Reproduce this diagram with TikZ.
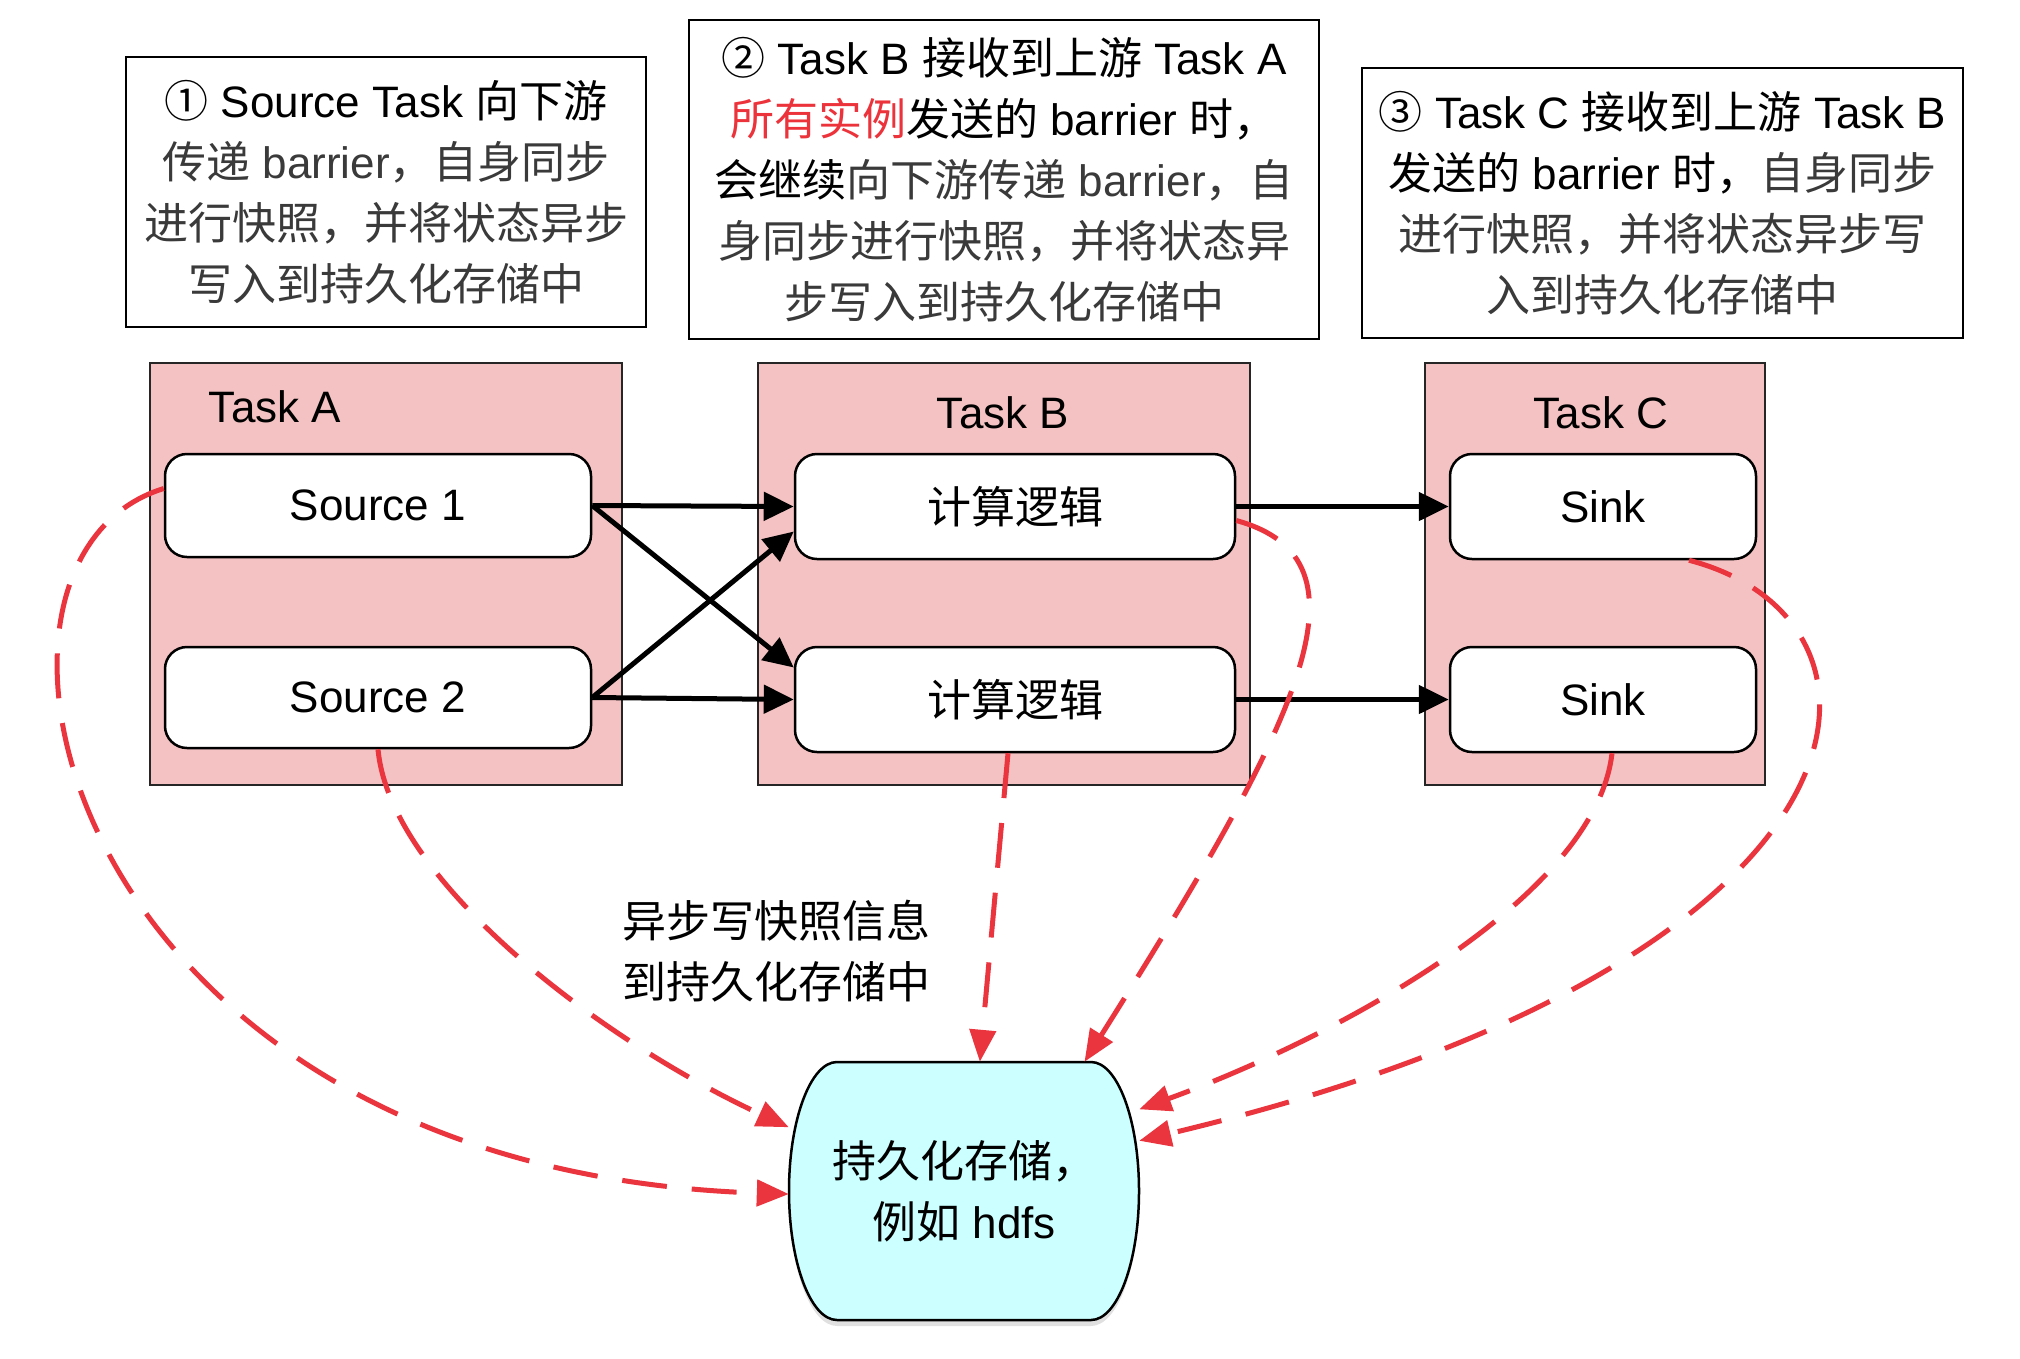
\documentclass[tikz,border=0pt]{standalone}
\usepackage{fontspec}
\setmainfont{Liberation Sans}
\newfontfamily\zhfont{Noto Sans CJK SC}
\newcommand\zh[1]{{\zhfont #1}}
\usetikzlibrary{arrows.meta,calc}
\definecolor{pinkfill}{RGB}{244,194,194}
\definecolor{cyanfill}{RGB}{204,255,255}
\definecolor{dashred}{RGB}{234,52,62}
\definecolor{txtgray}{RGB}{58,58,58}
\definecolor{hlred}{RGB}{236,50,58}
\begin{document}
\begin{tikzpicture}[x=1pt,y=-1pt,
  txt/.style={font=\fontsize{44}{61}\selectfont, align=center, inner sep=0pt},
  notebox/.style={draw=black, line width=2.5pt, fill=white, txt},
  taskbox/.style={draw=black!85, line width=2.5pt, fill=pinkfill, inner sep=0pt},
  opbox/.style={draw=black, line width=2.5pt, fill=white, rounded corners=22pt, txt},
  flow/.style={line width=5pt, -{Triangle[length=30pt,width=28pt]}},
  snap/.style={draw=dashred, line width=5pt, dash pattern=on 45pt off 25pt, -{Triangle[length=32pt,width=26pt]}}
]
\useasboundingbox (0,0) rectangle (2020,1358);

% notes
\node[notebox, minimum width=520pt, minimum height=270pt] (n1) at (386,192)
  {\zh{①} Source Task \zh{向下游}\\
   \textcolor{txtgray}{\zh{传递} barrier\zh{，自身同步}}\\
   \textcolor{txtgray}{\zh{进行快照，并将状态异步}}\\
   \textcolor{txtgray}{\zh{写入到持久化存储中}}};
\node[notebox, minimum width=630pt, minimum height=319pt] (n2) at (1004,179.5)
  {\zh{②} Task B \zh{接收到上游} Task A\\
   \textcolor{hlred}{\zh{所有实例}}\zh{发送的} barrier \zh{时，}\\
   \zh{会继续}\textcolor{txtgray}{\zh{向下游传递} barrier\zh{，自}}\\
   \textcolor{txtgray}{\zh{身同步进行快照，并将状态异}}\\
   \textcolor{txtgray}{\zh{步写入到持久化存储中}}};
\node[notebox, minimum width=601pt, minimum height=270pt] (n3) at (1662.5,203)
  {\zh{③} Task C \zh{接收到上游} Task B\\
   \zh{发送的} barrier \zh{时，}\textcolor{txtgray}{\zh{自身同步}}\\
   \textcolor{txtgray}{\zh{进行快照，并将状态异步写}}\\
   \textcolor{txtgray}{\zh{入到持久化存储中}}};

% task containers
\node[taskbox, minimum width=472pt, minimum height=422pt] (ta) at (386,574) {};
\node[taskbox, minimum width=492pt, minimum height=422pt] (tb) at (1004,574) {};
\node[taskbox, minimum width=340pt, minimum height=422pt] (tc) at (1595,574) {};
\node[txt] (la) at (275,407) {Task A};
\node[txt] (lb) at (1003,413) {Task B};
\node[txt] (lc) at (1601,413) {Task C};

% operators
\node[opbox, minimum width=426pt, minimum height=103pt] (s1) at (378,505.5) {Source 1};
\node[opbox, minimum width=426pt, minimum height=101pt] (s2) at (378,697.5) {Source 2};
\node[opbox, minimum width=440pt, minimum height=105pt] (b1) at (1015,506.5) {\zh{计算逻辑}};
\node[opbox, minimum width=440pt, minimum height=105pt] (b2) at (1015,699.5) {\zh{计算逻辑}};
\node[opbox, minimum width=306pt, minimum height=105pt] (k1) at (1603,506.5) {Sink};
\node[opbox, minimum width=306pt, minimum height=105pt] (k2) at (1603,699.5) {Sink};

% storage
\fill[black, opacity=0.12] (837,1068) -- (1091,1068) .. controls (1117.5,1068) and (1139,1126) .. (1139,1197) .. controls (1139,1268) and (1117.5,1326) .. (1091,1326) -- (837,1326) .. controls (810.5,1326) and (789,1268) .. (789,1197) .. controls (789,1126) and (810.5,1068) .. (837,1068) -- cycle;
\path[draw=black, line width=2.5pt, fill=cyanfill] (837,1062) -- (1091,1062) .. controls (1117.5,1062) and (1139,1120) .. (1139,1191) .. controls (1139,1262) and (1117.5,1320) .. (1091,1320) -- (837,1320) .. controls (810.5,1320) and (789,1262) .. (789,1191) .. controls (789,1120) and (810.5,1062) .. (837,1062) -- cycle;
\node[txt, minimum width=350pt, minimum height=258pt] (cyl) at (964,1191) {\zh{持久化存储，}\\\zh{例如} hdfs};

\node[txt, align=left] (lbl) at (776,951) {\zh{异步写快照信息}\\\zh{到持久化存储中}};

% data flow
\draw[flow] (s1.east) -- (b1.west);
\draw[flow] (s1.east) -- ([yshift=32pt]b2.west);
\draw[flow] (s2.east) -- ([yshift=-25pt]b1.west);
\draw[flow] (s2.east) -- (b2.west);
\draw[flow] (b1.east) -- (k1.west);
\draw[flow] (b2.east) -- (k2.west);

% snapshots
\draw[snap] ([yshift=17pt]s1.west) .. controls (-70,560) and (60,1170) .. (cyl.181);
\draw[snap] (s2.south) .. controls (390,880) and (600,1040) .. (cyl.160);
\draw[snap] ([xshift=-7pt]b2.south) -- (cyl.83);
\draw[snap] ([yshift=-14pt]b1.east) .. controls (1380,560) and (1300,720) .. (cyl.47.5);
\draw[snap] ([xshift=86pt]k1.south) .. controls (1920,620) and (1900,960) .. (cyl.16);
\draw[snap] ([xshift=9pt]k2.south) .. controls (1595,900) and (1330,1040) .. (cyl.25.5);
\end{tikzpicture}
\end{document}
